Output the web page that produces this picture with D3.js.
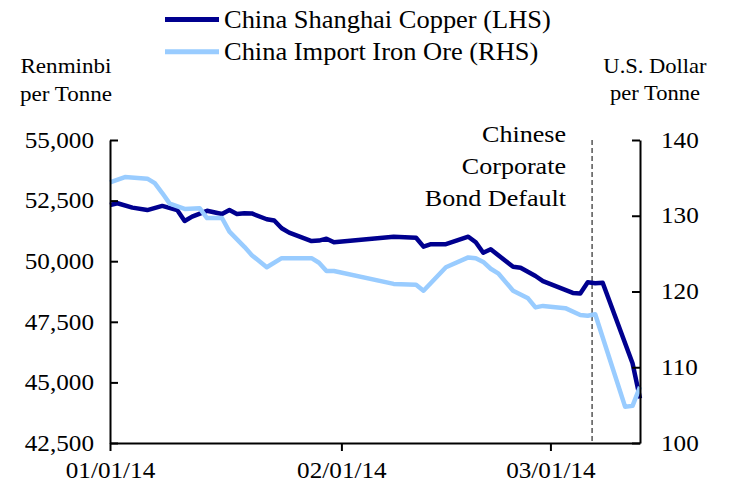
<!DOCTYPE html>
<html>
<head>
<meta charset="utf-8">
<script src="https://cdn.jsdelivr.net/npm/d3@7"></script>
<style>
  html, body { margin: 0; padding: 0; background: #fff; }
  svg text { font-family: "Liberation Serif", "Times New Roman", serif; fill: #000; }
</style>
</head>
<body>
<svg id="chart" width="729" height="489"></svg>
<script>
// ---- data ----
const copperDates = ["2014-01-01","2014-01-02","2014-01-04","2014-01-06","2014-01-08","2014-01-10","2014-01-11","2014-01-12","2014-01-14","2014-01-16","2014-01-17","2014-01-18","2014-01-19","2014-01-20","2014-01-22","2014-01-23","2014-01-24","2014-01-25","2014-01-28","2014-01-29","2014-01-30","2014-01-31","2014-02-08","2014-02-11","2014-02-12","2014-02-13","2014-02-15","2014-02-18","2014-02-19","2014-02-20","2014-02-21","2014-02-24","2014-02-25","2014-02-27","2014-02-28","2014-03-04","2014-03-05","2014-03-06","2014-03-07","2014-03-08","2014-03-12","2014-03-13"];
const copperValues = [52320,52390,52210,52110,52280,52110,51660,51840,52080,51950,52110,51950,51980,51970,51730,51680,51360,51180,50830,50850,50930,50780,51010,50970,50600,50700,50700,51010,50780,50350,50490,49770,49730,49390,49180,48690,48670,49130,49090,49110,45790,44340];

const ironDates = ["2014-01-01","2014-01-03","2014-01-06","2014-01-07","2014-01-08","2014-01-09","2014-01-11","2014-01-13","2014-01-14","2014-01-16","2014-01-17","2014-01-19","2014-01-20","2014-01-22","2014-01-24","2014-01-28","2014-01-29","2014-01-30","2014-01-31","2014-02-08","2014-02-11","2014-02-12","2014-02-15","2014-02-18","2014-02-19","2014-02-20","2014-02-21","2014-02-22","2014-02-24","2014-02-26","2014-02-27","2014-02-28","2014-03-03","2014-03-05","2014-03-06","2014-03-07","2014-03-11","2014-03-12","2014-03-13"];
const ironValues = [134.4,135.1,134.9,134.3,133.0,131.6,130.9,131.0,129.7,129.7,127.9,125.9,124.8,123.2,124.4,124.4,123.8,122.7,122.7,121.0,120.9,120.1,123.2,124.5,124.4,123.9,123.0,122.4,120.1,119.1,117.9,118.1,117.8,116.9,116.8,117.0,104.8,104.9,107.4];

const seriesNames = ["China Shanghai Copper (LHS)", "China Import Iron Ore (RHS)"];
const leftTicks = [42500, 45000, 47500, 50000, 52500, 55000];
const rightTicks = [100, 110, 120, 130, 140];
const xTickDates = ["2014-01-01", "2014-02-01", "2014-03-01"];
const xDomain = ["2014-01-01", "2014-03-13"];
const leftTitle = ["Renminbi", "per Tonne"];
const rightTitle = ["U.S. Dollar", "per Tonne"];
const eventDate = "2014-03-06T14:00";
const eventLabel = ["Chinese", "Corporate", "Bond Default"];

// ---- layout ----
const parse = d3.isoParse;
const M = { left: 110, right: 640, top: 140, bottom: 443 };
const SX = 1.1; // horizontal glyph stretch seen in the reference
const svg = d3.select("#chart");

const x = d3.scaleTime().domain(xDomain.map(parse)).range([M.left, M.right]);
const yL = d3.scaleLinear().domain([42500, 55000]).range([M.bottom, M.top]);
const yR = d3.scaleLinear().domain([100, 140]).range([M.bottom, M.top]);

function stretchText(sel, sx) {
  sel.selectAll("text").each(function () {
    const t = d3.select(this);
    const xv = +t.attr("x") || 0;
    t.attr("x", xv / sx).attr("transform", `scale(${sx},1)`);
  });
}
function label(x0, y0, s, size, anchor, sx) {
  svg.append("text")
    .attr("transform", `translate(${x0},${y0}) scale(${sx || SX},1)`)
    .attr("text-anchor", anchor)
    .style("font-size", size + "px")
    .text(s);
}

// ---- event line ----
svg.append("line")
  .attr("x1", x(parse(eventDate))).attr("x2", x(parse(eventDate)))
  .attr("y1", M.top).attr("y2", M.bottom)
  .attr("stroke", "#555").attr("stroke-width", 1.5)
  .attr("stroke-dasharray", "5,3");

eventLabel.forEach((s, i) => label(566, 142 + i * 32, s, 23.7, "end"));

// ---- lines ----
const copper = copperDates.map((d, i) => ({ d: parse(d), v: copperValues[i] }));
const iron = ironDates.map((d, i) => ({ d: parse(d), v: ironValues[i] }));

svg.append("path").datum(copper)
  .attr("fill", "none").attr("stroke", "#00008F").attr("stroke-width", 4.5)
  .attr("stroke-linejoin", "round")
  .attr("d", d3.line().x(p => x(p.d)).y(p => yL(p.v)));

svg.append("path").datum(iron)
  .attr("fill", "none").attr("stroke", "#99CCFF").attr("stroke-width", 4.5)
  .attr("stroke-linejoin", "round")
  .attr("d", d3.line().x(p => x(p.d)).y(p => yR(p.v)));

// ---- axes ----
const fmtL = d3.format(",");
const gL = svg.append("g").attr("transform", `translate(${M.left},0)`)
  .call(d3.axisLeft(yL).tickValues(leftTicks).tickFormat(fmtL).tickSize(-8).tickSizeOuter(0).tickPadding(16));
const gR = svg.append("g").attr("transform", `translate(${M.right},0)`)
  .call(d3.axisRight(yR).tickValues(rightTicks).tickSize(-8).tickSizeOuter(0).tickPadding(21));
const gX = svg.append("g").attr("transform", `translate(0,${M.bottom})`)
  .call(d3.axisBottom(x).tickValues(xTickDates.map(parse)).tickFormat(d3.timeFormat("%m/%d/%y")).tickSize(8).tickSizeOuter(0).tickPadding(11));

[gL, gR, gX].forEach(g => {
  g.selectAll("path, line").attr("stroke", "#000").attr("stroke-width", 2);
  g.selectAll("text").style("font-size", "22.5px").style("font-family", "'Liberation Serif', 'Times New Roman', serif").attr("fill", "#000");
  g.attr("font-size", null).attr("font-family", null);
  stretchText(g, 1.12);
});

// ---- axis titles ----
leftTitle.forEach((s, i) => label(66, 73 + i * 28, s, 21, "middle"));
rightTitle.forEach((s, i) => label(655, 73 + i * 27, s, 20.5, "middle"));

// ---- legend ----
const legendColors = ["#00008F", "#99CCFF"];
seriesNames.forEach((s, i) => {
  const yy = 19.5 + i * 32.3;
  svg.append("line").attr("x1", 165).attr("x2", 219).attr("y1", yy).attr("y2", yy)
    .attr("stroke", legendColors[i]).attr("stroke-width", 5);
  label(224, yy + 8.2, s, 24.5, "start", 1.08);
});
</script>
</body>
</html>
